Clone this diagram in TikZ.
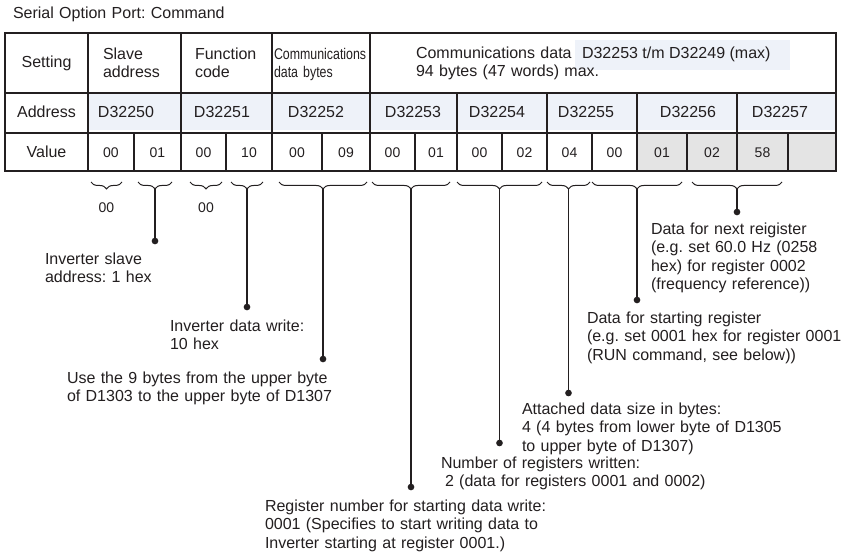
\documentclass[tikz,border=0pt]{standalone}
\usepackage{fontspec}
\setmainfont{Liberation Sans}
\newfontfamily\condfont[FakeStretch=0.8]{Liberation Sans}
\usetikzlibrary{decorations.pathreplacing}
\definecolor{ink}{HTML}{231F20}
\definecolor{addrblue}{HTML}{EEF2F9}
\definecolor{valgrey}{HTML}{E4E4E4}
\frenchspacing
\begin{document}
\frenchspacing
\begin{tikzpicture}[x=0.75pt,y=-0.75pt,
  every node/.style={inner sep=0pt, outer sep=0pt, text=ink},
  lbl/.style={anchor=base west, align=left, text width=300pt, font=\frenchspacing\fontsize{12}{13.9}\selectfont},
  hdr/.style={anchor=base west, align=left, text width=120pt, font=\fontsize{12}{13.5}\selectfont},
  cen/.style={anchor=base, font=\fontsize{12}{14}\selectfont},
  val/.style={anchor=base, font=\fontsize{10.5}{12}\selectfont},
  outer/.style={draw=ink, line width=1.8pt},
  inner/.style={draw=ink, line width=1.1pt},
  thin/.style={draw=ink, line width=0.8pt},
  stem/.style={draw=ink, line width=1.1pt},
  dot/.style={circle, fill=ink, minimum size=5pt},
  bracket/.style={decorate, decoration={brace, mirror, amplitude=5.2pt}, draw=ink, line width=0.75pt}
]
\useasboundingbox (0,0) rectangle (845,556);
\fill[white] (0,0) rectangle (845,556);

% title
\node[lbl] (title) at (13,19) {Serial Option Port: Command};

% fills
\fill[addrblue] (88,94) rectangle (836,130);
\fill[valgrey] (637,133) rectangle (836,171);
\fill[addrblue] (575,40) rectangle (790,70);

% grid
\draw[inner] (5,93) -- (836,93);
\draw[inner] (5,133) -- (836,133);
\foreach \x in {88,181,272,370} \draw[inner] (\x,33) -- (\x,171);
\foreach \x in {457,547,637,737} \draw[inner] (\x,93) -- (\x,171);
\foreach \x in {134,226,322,415,502,592,687,788} \draw[thin] (\x,133) -- (\x,171);
\draw[outer] (5,33) rectangle (836,171);

% header row
\node[cen] (hset) at (46.5,68) {Setting};
\node[hdr] (hslave) at (103,60) {Slave\\address};
\node[hdr] (hfunc) at (195,60) {Function\\code};
\node[hdr, font=\condfont\fontsize{11.6}{13.5}\selectfont] (hbytes) at (274,60) {Communications\\data bytes};
\node[hdr, text width=250pt] (hdata) at (416,59) {Communications data\\94 bytes (47 words) max.};
\node[anchor=base west, font=\fontsize{12}{14}\selectfont] (hrange) at (582,59) {D32253 t/m D32249 (max)};

% address row
\node[cen] (haddr) at (46.5,118) {Address};
\node[cen] (a0) at (126,118) {D32250};
\node[cen] (a1) at (222,118) {D32251};
\node[cen] (a2) at (316,118) {D32252};
\node[cen] (a3) at (413,118) {D32253};
\node[cen] (a4) at (497,118) {D32254};
\node[cen] (a5) at (586,118) {D32255};
\node[cen] (a6) at (688,118) {D32256};
\node[cen] (a7) at (780,118) {D32257};

% value row
\node[cen] (hval) at (46.5,157) {Value};
\foreach \c/\v [count=\i] in {111/00,157.5/01,203.5/00,249/10,297/00,346/09,392.5/00,436/01,479.5/00,524.5/02,569.5/04,614.5/00,662/01,712/02,762.5/58}
  \node[val] (v\i) at (\c,157) {\v};

% braces
\draw[bracket] (91,182) -- (122,182);
\draw[bracket] (138,182) -- (172,182);
\draw[bracket] (190,182) -- (222,182);
\draw[bracket] (231,182) -- (263,182);
\draw[bracket] (279,182) -- (367,182);
\draw[bracket] (372,182) -- (450,182);
\draw[bracket] (457,182) -- (542,182);
\draw[bracket] (547,182) -- (590,182);
\draw[bracket] (592,182) -- (682,182);
\draw[bracket] (692,182) -- (782,182);

\coordinate (t2) at (155,189);
\coordinate (t4) at (247,189);
\coordinate (t5) at (323,189);
\coordinate (t6) at (411,189);
\coordinate (t7) at (499.5,189);
\coordinate (t8) at (568.5,189);
\coordinate (t9) at (637,189);
\coordinate (t10) at (737,189);

\node[val] (z1) at (106.5,212) {00};
\node[val] (z3) at (206,212) {00};

% dots
\node[dot] (d2) at (155,241) {};
\node[dot] (d4) at (247,307) {};
\node[dot] (d5) at (323,359) {};
\node[dot] (d6) at (411,487) {};
\node[dot] (d7) at (499.5,443) {};
\node[dot] (d8) at (568.5,393) {};
\node[dot] (d9) at (637,300) {};
\node[dot] (d10) at (737,212) {};

\foreach \k in {2,4,5,6,7,8,9,10} \draw[stem] (t\k) -- (d\k.center);

% labels
\node[lbl] (l2) at (45,264) {Inverter slave\\address: 1 hex};
\node[lbl] (l4) at (170,331) {Inverter data write:\\10 hex};
\node[lbl] (l5) at (67,383) {Use the 9 bytes from the upper byte\\of D1303 to the upper byte of D1307};
\node[lbl] (l6) at (265,511) {Register number for starting data write:\\0001 (Specifies to start writing data to\\Inverter starting at register 0001.)};
\node[lbl] (l7) at (441,468) {Number of registers written:\\\hspace*{3pt}2 (data for registers 0001 and 0002)};
\node[lbl] (l8) at (522,414) {Attached data size in bytes:\\4 (4 bytes from lower byte of D1305\\to upper byte of D1307)};
\node[lbl] (l9) at (587,323) {Data for starting register\\(e.g. set 0001 hex for register 0001\\(RUN command, see below))};
\node[lbl] (l10) at (651,234) {Data for next reigister\\(e.g. set 60.0 Hz (0258\\hex) for register 0002\\(frequency reference))};
\end{tikzpicture}
\end{document}
